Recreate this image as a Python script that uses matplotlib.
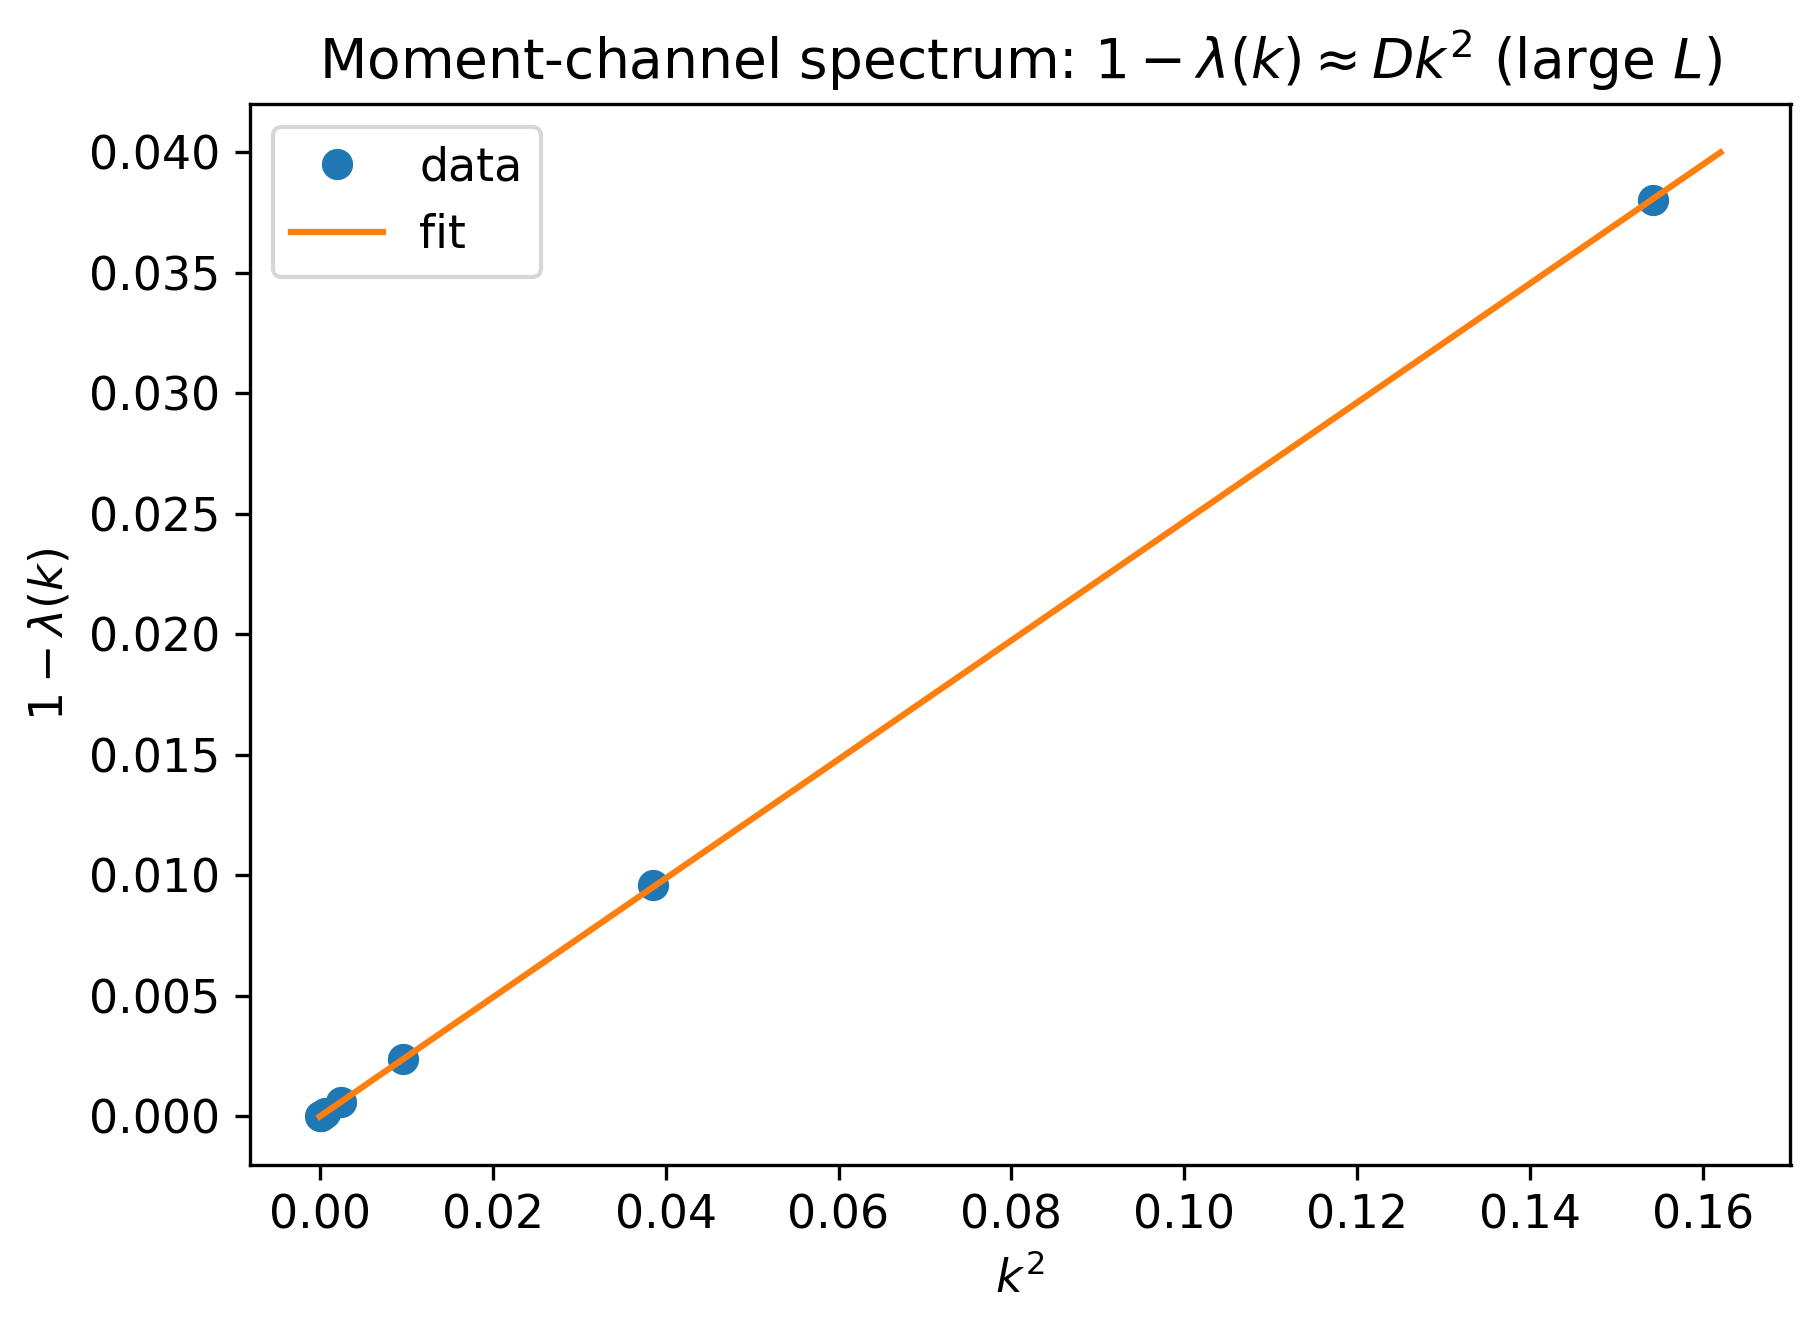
import numpy as np
import matplotlib
matplotlib.use("Agg")
import matplotlib.pyplot as plt

plt.rcParams['font.size'] = 11

k2 = [0.0000376, 0.000151, 0.000602, 0.00241, 0.00964, 0.03855, 0.1542]
gap = [0.0000094, 0.0000376, 0.00015, 0.0006, 0.0024, 0.0096, 0.0380]
D = 0.2468
fit_x = [0.0, 0.162]

fig, ax = plt.subplots(figsize=(6.06, 4.43), dpi=300)
ax.plot(k2, gap, 'o', markersize=6.5, label='data')
ax.plot(fit_x, [D * x for x in fit_x], '-', label='fit')
ax.set_xlabel(r'$k^2$')
ax.set_ylabel(r'$1-\lambda(k)$')
ax.set_title(r'Moment-channel spectrum: $1-\lambda(k)\approx Dk^2$ (large $L$)')
ax.legend(loc='upper left')
fig.tight_layout(pad=0.6)
fig.savefig('out.png', dpi=300)
